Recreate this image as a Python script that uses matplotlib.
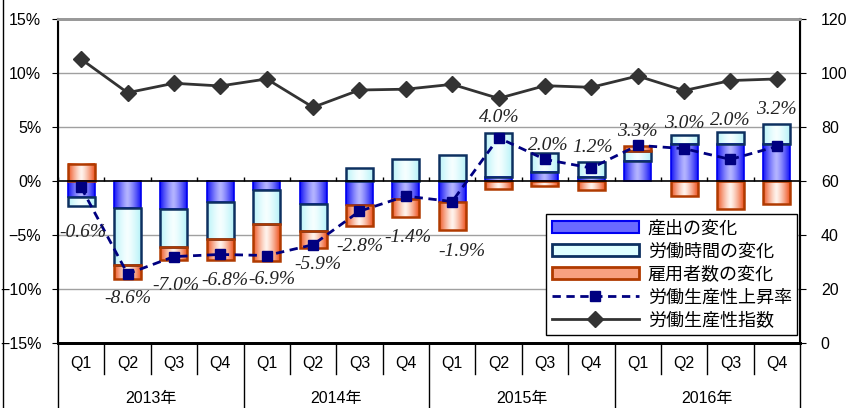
import numpy as np
import matplotlib
matplotlib.use('Agg')
from matplotlib import pyplot as plt
from matplotlib.colors import LinearSegmentedColormap
from matplotlib.patches import Patch
from matplotlib.lines import Line2D
import matplotlib.transforms as mtransforms

plt.rcParams['font.family'] = ['Liberation Sans', 'Noto Sans CJK JP']

# data
quarters = ['Q1', 'Q2', 'Q3', 'Q4'] * 4
years = ['2013年', '2014年', '2015年', '2016年']
output_chg = [-1.45, -2.5, -2.6, -1.97, -0.83, -2.13, -2.22, -1.7,
              -1.9, 0.4, 0.86, 0.4, 1.88, 3.43, 3.43, 3.43]
hours_chg = [-0.85, -5.25, -3.5, -3.43, -3.15, -2.47, 1.17, 2.0,
             2.4, 4.07, 1.7, 1.39, 0.93, 0.83, 1.07, 1.85]
employ_chg = [1.6, -1.33, -1.17, -1.9, -3.4, -1.63, -1.94, -1.67,
              -2.6, -0.74, -0.46, -0.83, 0.43, -1.39, -2.62, -2.16]
prod_growth = [-0.6, -8.6, -7.0, -6.8, -6.9, -5.9, -2.8, -1.4,
               -1.9, 4.0, 2.0, 1.2, 3.3, 3.0, 2.0, 3.2]
prod_index = [105.1, 92.7, 96.2, 95.2, 97.8, 87.3, 93.7, 94.0,
              95.8, 90.6, 95.3, 94.7, 98.9, 93.5, 97.2, 97.8]

# label offsets in pixels (dx, dy), dy positive = down
label_off = [(2, 45), (0, 25), (2, 29), (5, 26), (5, 24), (5, 20), (0, 35), (2, 41),
             (10, 50), (1, -20), (3, -14), (1, -21), (0, -14), (0, -25), (0, -39), (0, -37)]

W, H = 847, 408
fig = plt.figure(figsize=(W / 100, H / 100), dpi=100)
ax = fig.add_axes([58 / W, 1 - 343 / H, 742 / W, 324 / H])
ax2 = ax.twinx()

x = np.arange(len(quarters))
bw = 0.58

cm_blue = LinearSegmentedColormap.from_list('b', ['#1515F5', '#B4B4FF'])
cm_cyan = LinearSegmentedColormap.from_list('c', ['#B8F2F8', '#F6FFFF'])
cm_orng = LinearSegmentedColormap.from_list('o', ['#EE5522', '#FFF3EC'])
u = np.linspace(0, 1, 64)
grad = (1 - np.abs(2 * u - 1) ** 1.3).reshape(1, -1)

series = [(output_chg, cm_blue, '#0000F0', 1.2),
          (hours_chg, cm_cyan, '#0D3060', 1.8),
          (employ_chg, cm_orng, '#B03A00', 1.8)]

pos_bot = np.zeros(len(x))
neg_bot = np.zeros(len(x))
for vals, cmap, ec, lw in series:
    for i, v in enumerate(vals):
        if v >= 0:
            b0, b1 = pos_bot[i], pos_bot[i] + v
            pos_bot[i] = b1
        else:
            b0, b1 = neg_bot[i] + v, neg_bot[i]
            neg_bot[i] = b0
        ax.imshow(grad, extent=[x[i] - bw / 2, x[i] + bw / 2, b0, b1],
                  aspect='auto', cmap=cmap, vmin=0, vmax=1, zorder=2,
                  interpolation='bilinear')
        ax.bar(x[i], b1 - b0, bw, bottom=b0, facecolor='none', edgecolor=ec,
               linewidth=lw, zorder=3)

ax.plot(x, prod_growth, color='#000080', lw=2, ls=(0, (3, 2)), marker='s',
        markersize=7, zorder=5)

for i, v in enumerate(prod_growth):
    dx, dy = label_off[i]
    ax.annotate('%.1f%%' % v, (x[i], v), xytext=(dx, -dy), textcoords='offset pixels',
                ha='center', va='center', fontsize=14, fontstyle='italic',
                family='Liberation Serif', color='#222222', zorder=6)

ax2.plot(x, prod_index, color='#333333', lw=2, marker='D', markersize=8, zorder=5)

ax.set_xlim(-0.5, len(x) - 0.5)
ax.set_ylim(-15, 15)
ax2.set_ylim(0, 120)
ax.set_yticks([-15, -10, -5, 0, 5, 10, 15])
ax.set_yticklabels(['−15%', '−10%', '−5%', '0%', '5%', '10%', '15%'])
ax2.set_yticks([0, 20, 40, 60, 80, 100, 120])
ax.tick_params(axis='y', labelsize=11.5, length=4, pad=8, color='black')
ax2.tick_params(axis='y', labelsize=11.5, length=4, pad=11, color='black')
ax.set_xticks([])

for g in [-10, -5, 5, 10]:
    ax.axhline(g, color='#A0A0A0', lw=1, zorder=0)
ax.axhline(0, color='black', lw=1.2, zorder=4)
ax.vlines(np.arange(len(x) + 1) - 0.5, 0, 0.4, color='black', lw=1, zorder=4)

for a in (ax, ax2):
    a.spines['top'].set_color('#999999')
    a.spines['top'].set_linewidth(2)
    a.spines['bottom'].set_linewidth(2)
ax.spines['left'].set_linewidth(1.5)
ax2.spines['right'].set_linewidth(1.5)

# category axis under the plot
tr = mtransforms.blended_transform_factory(ax.transData, ax.transAxes)
for i, q in enumerate(quarters):
    ax.text(x[i], -0.064, q, transform=tr, ha='center', va='center', fontsize=11.5)
for b in np.arange(len(x) + 1) - 0.5:
    if (b + 0.5) % 4 == 0:
        ax.plot([b, b], [0, -0.21], transform=tr, color='black', lw=1, clip_on=False)
    else:
        ax.plot([b, b], [0, -0.096], transform=tr, color='black', lw=1, clip_on=False)
for k, yr in enumerate(years):
    ax.text(4 * k + 1.5, -0.172, yr, transform=tr, ha='center', va='center', fontsize=11.5)

fig.add_artist(Line2D([3 / W, 3 / W], [0, 1], color='black', lw=1))

handles = [Patch(facecolor='#6A6AFF', edgecolor='#0000F0', lw=1.5),
           Patch(facecolor='#DFFFFF', edgecolor='#0D3060', lw=2),
           Patch(facecolor='#F8A080', edgecolor='#B03A00', lw=2),
           Line2D([], [], color='#000080', lw=2, ls=(0, (3, 2)), marker='s', markersize=7),
           Line2D([], [], color='#333333', lw=2, marker='D', markersize=8)]
labels = ['産出の変化', '労働時間の変化', '雇用者数の変化', '労働生産性上昇率', '労働生産性指数']
leg = ax2.legend(handles, labels, loc='lower right',
                 bbox_to_anchor=(797 / W, 1 - 335 / H), bbox_transform=fig.transFigure,
                 fancybox=False, edgecolor='black', framealpha=1,
                 handlelength=4.8, handleheight=0.7, labelspacing=0.28,
                 borderpad=0.3, handletextpad=0.5, borderaxespad=0,
                 prop={'family': ['Noto Sans CJK JP'], 'size': 13})
leg.get_frame().set_linewidth(1)
leg.set_zorder(10)

plt.savefig('out.png', dpi=100)
